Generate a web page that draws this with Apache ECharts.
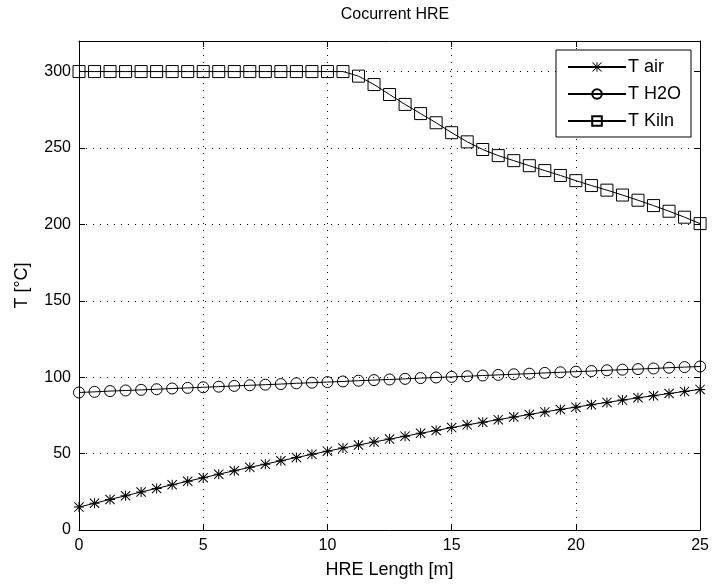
<!DOCTYPE html>
<html>
<head>
<meta charset="utf-8">
<script src="https://cdn.jsdelivr.net/npm/echarts@6/dist/echarts.min.js"></script>
<style>
  html, body { margin: 0; padding: 0; background: #fff; }
  #chart { width: 712px; height: 586px; }
</style>
</head>
<body>
<div id="chart"></div>
<script>
// Position along the heat-recovery exchanger [m]
const lengthPts = [
  0, 0.625, 1.25, 1.875, 2.5, 3.125, 3.75, 4.375, 5, 5.625,
  6.25, 6.875, 7.5, 8.125, 8.75, 9.375, 10, 10.625, 11.25, 11.875,
  12.5, 13.125, 13.75, 14.375, 15, 15.625, 16.25, 16.875, 17.5, 18.125,
  18.75, 19.375, 20, 20.625, 21.25, 21.875, 22.5, 23.125, 23.75, 24.375, 25
];

// Air temperature [°C]
const tAir = [
  15.0, 17.5, 20.0, 22.4, 24.9, 27.2, 29.6, 31.9, 34.2, 36.5,
  38.8, 41.0, 43.1, 45.3, 47.4, 49.5, 51.6, 53.6, 55.6, 57.6,
  59.5, 61.4, 63.3, 65.1, 67.0, 68.8, 70.5, 72.2, 73.9, 75.6,
  77.3, 78.9, 80.4, 82.0, 83.5, 85.0, 86.5, 87.9, 89.3, 90.7, 92.0
];

// Water temperature [°C]
const tH2O = [
  90.0, 90.4, 90.9, 91.3, 91.7, 92.1, 92.6, 93.0, 93.4, 93.8,
  94.3, 94.7, 95.1, 95.5, 96.0, 96.4, 96.8, 97.2, 97.7, 98.1,
  98.5, 98.9, 99.4, 99.8, 100.2, 100.6, 101.1, 101.5, 101.9, 102.3,
  102.8, 103.2, 103.6, 104.0, 104.5, 104.9, 105.3, 105.7, 106.2, 106.6, 107.0
];

// Kiln gas temperature [°C]
const tKiln = [
  300, 300, 300, 300, 300, 300, 300, 300, 300, 300,
  300, 300, 300, 300, 300, 300, 300, 300, 297.0, 291.5,
  285.0, 278.5, 272.5, 266.5, 260.0, 254.0, 249.0, 245.0, 241.7, 238.4,
  235.2, 232.0, 228.6, 225.4, 222.4, 219.2, 215.8, 212.3, 208.6, 204.7, 200.5
];

const seriesNames = ['T air', 'T H2O', 'T Kiln'];
const titleText = 'Cocurrent HRE';
const xAxisName = 'HRE Length [m]';
const yAxisName = 'T [°C]';

const FONT = '"Liberation Sans", Arial, sans-serif';

// Eight-armed asterisk marker built from thin bars
const asterisk = 'path://M4.5,0 L5.5,0 L5.5,10 L4.5,10 Z ' +
  'M0,4.5 L10,4.5 L10,5.5 L0,5.5 Z ' +
  'M0.7,0 L10,9.3 L9.3,10 L0,0.7 Z ' +
  'M9.3,0 L10,0.7 L0.7,10 L0,9.3 Z';

const pairs = ys => lengthPts.map((x, i) => [x, ys[i]]);

const chart = echarts.init(document.getElementById('chart'), null, { renderer: 'canvas' });

const dotted = { color: '#000', width: 1, type: [1, 6] };
const axisBlack = { show: true, onZero: false, lineStyle: { color: '#000', width: 1 } };
const innerTick = { show: true, inside: true, length: 6, lineStyle: { color: '#000' } };

chart.setOption({
  animation: false,
  backgroundColor: '#fff',
  textStyle: { fontFamily: FONT, color: '#000' },
  title: {
    text: titleText,
    left: 390,
    textAlign: 'center',
    top: 2,
    textStyle: { fontFamily: FONT, fontSize: 16, fontWeight: 'normal', color: '#000' }
  },
  grid: { left: 79, right: 10, top: 41, bottom: 56, show: false },
  legend: {
    orient: 'vertical',
    left: 556,
    top: 50,
    padding: [8, 10, 7, 11],
    itemWidth: 58,
    itemHeight: 12,
    itemGap: 9,
    backgroundColor: '#fff',
    borderColor: '#000',
    borderWidth: 1,
    borderRadius: 0,
    textStyle: { fontFamily: FONT, fontSize: 18, color: '#000', padding: [0, 0, 0, -3] },
    data: seriesNames
  },
  xAxis: [
    {
      type: 'value', min: 0, max: 25, interval: 5,
      name: xAxisName, nameLocation: 'middle', nameGap: 31,
      nameTextStyle: { fontFamily: FONT, fontSize: 18, color: '#000' },
      axisLine: axisBlack,
      axisTick: innerTick,
      axisLabel: { fontFamily: FONT, fontSize: 16, color: '#000', margin: 8 },
      splitLine: { show: true, lineStyle: dotted }
    },
    {
      type: 'value', min: 0, max: 25, interval: 5, position: 'top',
      axisLine: axisBlack,
      axisTick: innerTick,
      axisLabel: { show: false },
      splitLine: { show: false }
    }
  ],
  yAxis: [
    {
      type: 'value', min: 0, max: 320, interval: 50,
      name: yAxisName, nameLocation: 'middle', nameGap: 48, nameRotate: 90,
      nameTextStyle: { fontFamily: FONT, fontSize: 18, color: '#000' },
      axisLine: axisBlack,
      axisTick: innerTick,
      axisLabel: {
        fontFamily: FONT, fontSize: 16, color: '#000', margin: 8,
        showMaxLabel: false,
        formatter: v => (v > 300 ? '' : String(v))
      },
      splitLine: { show: true, lineStyle: dotted }
    },
    {
      type: 'value', min: 0, max: 320, interval: 50, position: 'right',
      axisLine: axisBlack,
      axisTick: innerTick,
      axisLabel: { show: false },
      splitLine: { show: false }
    }
  ],
  series: [
    {
      name: seriesNames[0], type: 'line', data: pairs(tAir),
      symbol: asterisk, symbolSize: 10, showAllSymbol: true,
      lineStyle: { color: '#000', width: 1 },
      itemStyle: { color: '#000', borderWidth: 0 }
    },
    {
      name: seriesNames[1], type: 'line', data: pairs(tH2O),
      symbol: 'circle', symbolSize: 11, showAllSymbol: true,
      lineStyle: { color: '#000', width: 1 },
      itemStyle: { color: 'rgba(255,255,255,0)', borderColor: '#000', borderWidth: 1 }
    },
    {
      name: seriesNames[2], type: 'line', data: pairs(tKiln),
      symbol: 'rect', symbolSize: 12, showAllSymbol: true,
      lineStyle: { color: '#000', width: 1 },
      itemStyle: { color: 'rgba(255,255,255,0)', borderColor: '#000', borderWidth: 1 }
    }
  ]
});
</script>
</body>
</html>
